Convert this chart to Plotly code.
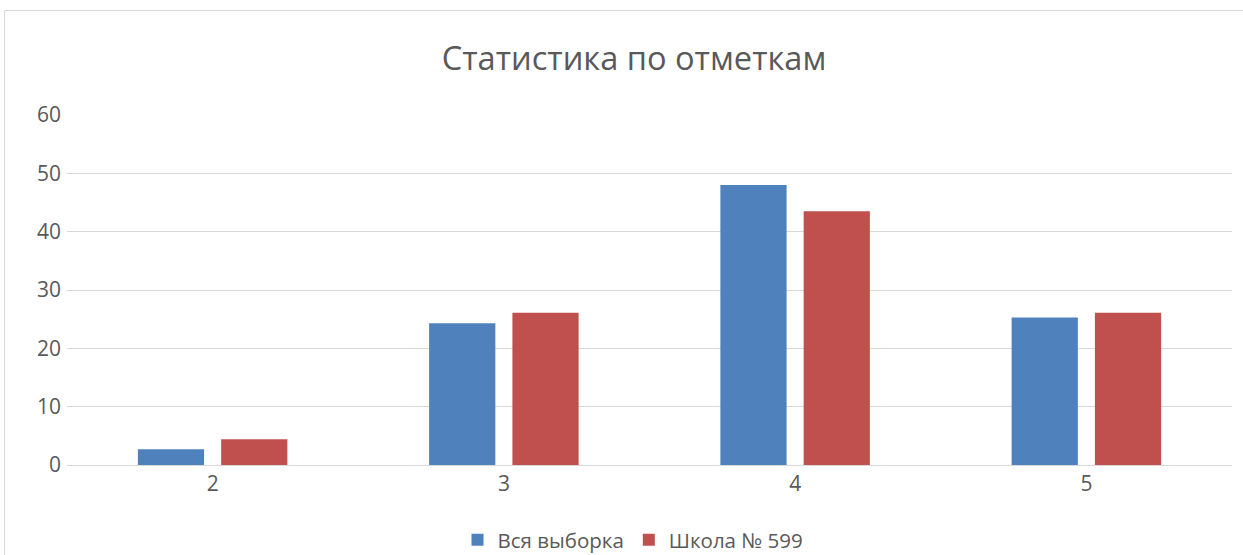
import plotly.graph_objects as go

categories = ["2", "3", "4", "5"]
all_sample = [2.7, 24.3, 48.0, 25.3]
school_599 = [4.4, 26.1, 43.5, 26.1]
series_names = ["Вся выборка", "Школа № 599"]
y_ticks = [0, 10, 20, 30, 40, 50, 60]

FONT = "Open Sans"
TXT = "#595959"

L, R, T, B = 67, 11, 115, 90
PW = 1243 - L - R
PH = 555 - T - B

fig = go.Figure()
fig.add_trace(go.Bar(x=categories, y=all_sample, name=series_names[0],
                     marker=dict(color="#4f81bd", line=dict(width=0))))
fig.add_trace(go.Bar(x=categories, y=school_599, name=series_names[1],
                     marker=dict(color="#c0504d", line=dict(width=0))))

fig.update_layout(
    width=1243, height=555,
    paper_bgcolor="white", plot_bgcolor="white",
    margin=dict(l=L, r=R, t=T, b=B, autoexpand=False),
    barmode="group", bargap=0.428, bargroupgap=0.205,
    title=dict(text="Статистика по отметкам", x=634 / 1243, xanchor="center",
               y=1 - 59 / 555, yanchor="middle", yref="container",
               font=dict(family=FONT, size=32.6, color=TXT)),
    font=dict(family=FONT, color=TXT, size=20),
    showlegend=True,
    legend=dict(orientation="h", x=(633 - L) / PW, xanchor="center",
                y=1 - 540 / 555, yanchor="middle", yref="container",
                font=dict(size=20.5, color=TXT),
                itemwidth=30, traceorder="normal"),
    xaxis=dict(showgrid=False, showline=True, linecolor="#d9d9d9", linewidth=1,
               ticks="", tickfont=dict(size=21, color=TXT)),
    yaxis=dict(range=[0, 60], tickvals=y_ticks, showgrid=True, gridcolor="#d9d9d9",
               gridwidth=1, zeroline=False, showline=False, ticks="",
               ticklen=0, tickfont=dict(size=21, color=TXT), ticklabelstandoff=5),
    shapes=[dict(type="rect", xref="paper", yref="paper",
                 x0=(4.5 - L) / PW, x1=1.05, y0=-0.4, y1=(555 - B - 10.5) / PH,
                 line=dict(color="#d9d9d9", width=1), fillcolor="rgba(0,0,0,0)",
                 layer="below")],
)

fig.write_html("out.html", config={"displayModeBar": False},
               post_script="document.body.style.margin='0';document.body.style.overflow='hidden';")
